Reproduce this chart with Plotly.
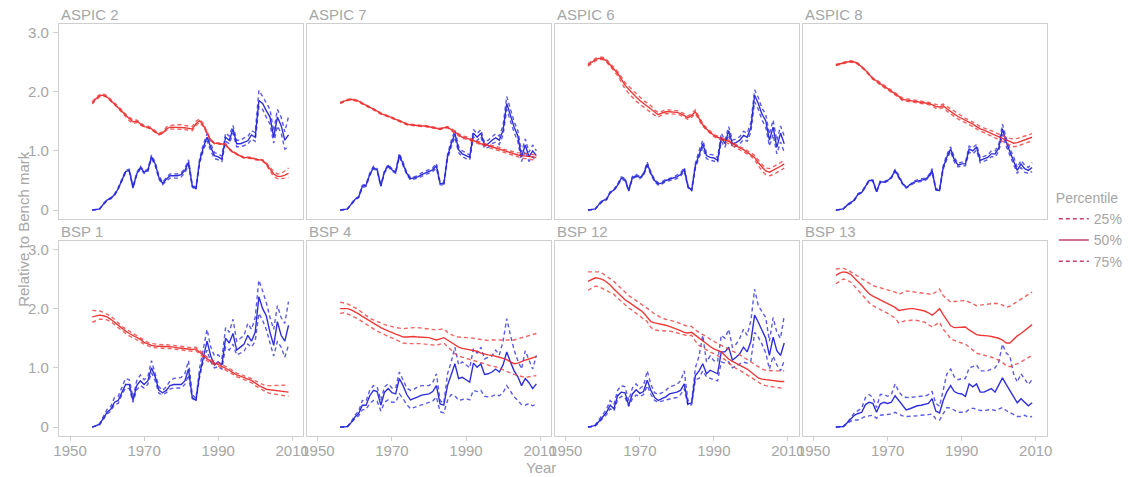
import plotly.graph_objects as go

# ---- data -----------------------------------------------------------------
YEARS = list(range(1956, 2010))
PANELS = ["ASPIC 2", "ASPIC 7", "ASPIC 6", "ASPIC 8", "BSP 1", "BSP 4", "BSP 12", "BSP 13"]
X_TICKS = [1950, 1970, 1990, 2010]
Y_TICKS = [0, 1, 2, 3]
Y_TICK_TEXT = ["0", "1.0", "2.0", "3.0"]
PERCENTILES = ["25%", "50%", "75%"]

# biomass relative to benchmark (red): 25th, 50th, 75th percentiles
aspic2_bio_25 = [1.79, 1.86, 1.91, 1.93, 1.90, 1.84, 1.79, 1.72, 1.65, 1.58,
                 1.51, 1.46, 1.48, 1.44, 1.40, 1.39, 1.36, 1.31, 1.27, 1.29,
                 1.35, 1.37, 1.37, 1.37, 1.37, 1.36, 1.35, 1.34, 1.43, 1.48,
                 1.41, 1.28, 1.17, 1.12, 1.11, 1.11, 1.10, 1.02, 0.97, 0.94,
                 0.90, 0.88, 0.88, 0.87, 0.85, 0.84, 0.83, 0.76, 0.66, 0.57,
                 0.53, 0.53, 0.54, 0.55]
aspic2_bio_50 = [1.81, 1.88, 1.93, 1.94, 1.91, 1.85, 1.80, 1.74, 1.67, 1.60,
                 1.54, 1.49, 1.50, 1.46, 1.41, 1.40, 1.37, 1.32, 1.28, 1.30,
                 1.37, 1.40, 1.40, 1.40, 1.40, 1.39, 1.38, 1.37, 1.46, 1.51,
                 1.43, 1.29, 1.18, 1.13, 1.12, 1.12, 1.11, 1.03, 0.98, 0.95,
                 0.91, 0.89, 0.89, 0.88, 0.86, 0.85, 0.84, 0.78, 0.69, 0.61,
                 0.57, 0.57, 0.59, 0.62]
aspic2_bio_75 = [1.83, 1.90, 1.95, 1.96, 1.93, 1.87, 1.82, 1.76, 1.69, 1.62,
                 1.57, 1.52, 1.52, 1.48, 1.43, 1.42, 1.39, 1.34, 1.30, 1.32,
                 1.40, 1.43, 1.44, 1.44, 1.44, 1.43, 1.42, 1.41, 1.50, 1.54,
                 1.46, 1.31, 1.19, 1.14, 1.13, 1.13, 1.12, 1.04, 0.99, 0.96,
                 0.92, 0.90, 0.90, 0.89, 0.87, 0.86, 0.85, 0.80, 0.72, 0.65,
                 0.61, 0.62, 0.66, 0.71]

aspic7_bio_25 = [1.80, 1.83, 1.85, 1.86, 1.85, 1.83, 1.79, 1.76, 1.73, 1.70,
                 1.66, 1.62, 1.60, 1.58, 1.55, 1.52, 1.50, 1.47, 1.44, 1.43,
                 1.42, 1.42, 1.41, 1.41, 1.40, 1.39, 1.38, 1.36, 1.38, 1.39,
                 1.34, 1.30, 1.25, 1.21, 1.20, 1.18, 1.15, 1.13, 1.10, 1.09,
                 1.06, 1.04, 1.02, 1.00, 0.97, 0.95, 0.93, 0.91, 0.89, 0.88,
                 0.87, 0.86, 0.85, 0.86]
aspic7_bio_50 = [1.81, 1.84, 1.86, 1.87, 1.86, 1.84, 1.80, 1.77, 1.74, 1.71,
                 1.67, 1.63, 1.61, 1.59, 1.56, 1.53, 1.51, 1.48, 1.45, 1.44,
                 1.43, 1.43, 1.42, 1.42, 1.41, 1.40, 1.39, 1.37, 1.39, 1.40,
                 1.36, 1.32, 1.27, 1.23, 1.22, 1.20, 1.17, 1.15, 1.12, 1.11,
                 1.09, 1.07, 1.05, 1.03, 1.00, 0.98, 0.96, 0.95, 0.93, 0.92,
                 0.91, 0.90, 0.89, 0.89]
aspic7_bio_75 = [1.82, 1.85, 1.87, 1.88, 1.87, 1.85, 1.81, 1.78, 1.75, 1.72,
                 1.68, 1.64, 1.62, 1.60, 1.57, 1.54, 1.52, 1.49, 1.46, 1.45,
                 1.44, 1.44, 1.43, 1.43, 1.42, 1.41, 1.40, 1.38, 1.40, 1.41,
                 1.38, 1.34, 1.29, 1.25, 1.24, 1.22, 1.19, 1.17, 1.14, 1.13,
                 1.11, 1.09, 1.08, 1.06, 1.03, 1.01, 0.99, 0.98, 0.97, 0.96,
                 0.95, 0.94, 0.93, 0.93]

aspic6_bio_25 = [2.43, 2.48, 2.52, 2.54, 2.54, 2.50, 2.43, 2.35, 2.27, 2.16,
                 2.05, 1.97, 1.90, 1.84, 1.79, 1.74, 1.70, 1.65, 1.60, 1.57,
                 1.61, 1.63, 1.63, 1.63, 1.62, 1.60, 1.57, 1.53, 1.57, 1.63,
                 1.52, 1.42, 1.35, 1.29, 1.24, 1.21, 1.18, 1.16, 1.13, 1.09,
                 1.05, 1.02, 0.99, 0.95, 0.91, 0.85, 0.75, 0.66, 0.60, 0.58,
                 0.60, 0.63, 0.67, 0.71]
aspic6_bio_50 = [2.45, 2.50, 2.54, 2.56, 2.56, 2.52, 2.45, 2.38, 2.31, 2.21,
                 2.11, 2.04, 1.97, 1.91, 1.85, 1.80, 1.76, 1.71, 1.65, 1.61,
                 1.64, 1.66, 1.66, 1.66, 1.65, 1.63, 1.60, 1.56, 1.60, 1.66,
                 1.55, 1.44, 1.37, 1.31, 1.26, 1.23, 1.20, 1.18, 1.16, 1.12,
                 1.08, 1.05, 1.02, 0.98, 0.94, 0.89, 0.80, 0.72, 0.66, 0.64,
                 0.67, 0.70, 0.74, 0.78]
aspic6_bio_75 = [2.47, 2.52, 2.56, 2.58, 2.58, 2.54, 2.47, 2.40, 2.34, 2.25,
                 2.15, 2.09, 2.03, 1.97, 1.90, 1.85, 1.81, 1.76, 1.69, 1.65,
                 1.67, 1.69, 1.69, 1.69, 1.68, 1.66, 1.63, 1.59, 1.63, 1.69,
                 1.58, 1.46, 1.39, 1.33, 1.28, 1.25, 1.22, 1.20, 1.18, 1.14,
                 1.10, 1.07, 1.04, 1.01, 0.97, 0.92, 0.84, 0.77, 0.71, 0.70,
                 0.73, 0.76, 0.80, 0.85]

aspic8_bio_25 = [2.44, 2.46, 2.48, 2.49, 2.50, 2.49, 2.46, 2.41, 2.35, 2.28,
                 2.21, 2.16, 2.11, 2.07, 2.03, 1.99, 1.94, 1.90, 1.85, 1.84,
                 1.83, 1.83, 1.82, 1.80, 1.79, 1.78, 1.76, 1.72, 1.71, 1.73,
                 1.67, 1.62, 1.58, 1.54, 1.51, 1.47, 1.44, 1.41, 1.37, 1.33,
                 1.31, 1.28, 1.26, 1.23, 1.20, 1.17, 1.13, 1.10, 1.07, 1.08,
                 1.10, 1.12, 1.14, 1.17]
aspic8_bio_50 = [2.45, 2.47, 2.49, 2.50, 2.51, 2.50, 2.47, 2.42, 2.36, 2.29,
                 2.22, 2.18, 2.13, 2.09, 2.05, 2.01, 1.96, 1.92, 1.87, 1.86,
                 1.85, 1.85, 1.84, 1.82, 1.81, 1.80, 1.78, 1.75, 1.74, 1.76,
                 1.71, 1.66, 1.62, 1.58, 1.55, 1.51, 1.48, 1.45, 1.41, 1.37,
                 1.35, 1.32, 1.30, 1.27, 1.24, 1.21, 1.18, 1.16, 1.13, 1.14,
                 1.16, 1.18, 1.20, 1.23]
aspic8_bio_75 = [2.46, 2.48, 2.50, 2.51, 2.52, 2.51, 2.48, 2.43, 2.37, 2.30,
                 2.23, 2.20, 2.15, 2.11, 2.07, 2.03, 1.98, 1.94, 1.89, 1.88,
                 1.87, 1.87, 1.86, 1.84, 1.83, 1.82, 1.80, 1.78, 1.77, 1.79,
                 1.75, 1.70, 1.66, 1.62, 1.59, 1.55, 1.52, 1.49, 1.45, 1.41,
                 1.39, 1.36, 1.34, 1.31, 1.28, 1.25, 1.23, 1.21, 1.20, 1.21,
                 1.23, 1.25, 1.27, 1.29]

bsp1_bio_25 = [1.77, 1.80, 1.82, 1.82, 1.81, 1.78, 1.73, 1.68, 1.62, 1.58,
               1.54, 1.51, 1.48, 1.44, 1.40, 1.37, 1.35, 1.34, 1.33, 1.33,
               1.33, 1.33, 1.32, 1.31, 1.30, 1.29, 1.28, 1.28, 1.29, 1.24,
               1.18, 1.12, 1.08, 1.05, 1.03, 1.00, 0.97, 0.93, 0.89, 0.85,
               0.83, 0.80, 0.78, 0.75, 0.70, 0.66, 0.62, 0.59, 0.57, 0.56,
               0.55, 0.54, 0.53, 0.52]
bsp1_bio_50 = [1.86, 1.88, 1.89, 1.88, 1.86, 1.82, 1.77, 1.72, 1.66, 1.62,
               1.58, 1.55, 1.52, 1.48, 1.43, 1.40, 1.38, 1.37, 1.36, 1.36,
               1.36, 1.36, 1.35, 1.34, 1.33, 1.32, 1.31, 1.31, 1.32, 1.27,
               1.21, 1.15, 1.11, 1.08, 1.06, 1.03, 1.00, 0.96, 0.92, 0.88,
               0.86, 0.83, 0.81, 0.79, 0.74, 0.70, 0.67, 0.64, 0.63, 0.62,
               0.62, 0.61, 0.60, 0.59]
bsp1_bio_75 = [1.97, 1.97, 1.96, 1.94, 1.91, 1.87, 1.82, 1.76, 1.70, 1.66,
               1.62, 1.58, 1.55, 1.51, 1.46, 1.43, 1.41, 1.40, 1.39, 1.39,
               1.39, 1.39, 1.38, 1.37, 1.36, 1.35, 1.34, 1.34, 1.35, 1.30,
               1.24, 1.18, 1.14, 1.11, 1.09, 1.06, 1.03, 0.99, 0.95, 0.91,
               0.89, 0.86, 0.84, 0.82, 0.78, 0.75, 0.72, 0.70, 0.70, 0.70,
               0.70, 0.70, 0.71, 0.71]

bsp4_bio_25 = [1.92, 1.93, 1.91, 1.88, 1.86, 1.82, 1.78, 1.74, 1.70, 1.65,
               1.62, 1.59, 1.56, 1.53, 1.50, 1.47, 1.44, 1.42, 1.41, 1.41,
               1.42, 1.42, 1.41, 1.40, 1.39, 1.38, 1.38, 1.40, 1.42, 1.36,
               1.30, 1.24, 1.20, 1.18, 1.17, 1.15, 1.13, 1.11, 1.09, 1.07,
               1.05, 1.03, 1.02, 1.00, 0.97, 0.94, 0.91, 0.89, 0.87, 0.85,
               0.84, 0.85, 0.86, 0.87]
bsp4_bio_50 = [2.00, 2.00, 2.00, 1.98, 1.95, 1.91, 1.87, 1.83, 1.79, 1.75,
               1.71, 1.68, 1.65, 1.62, 1.60, 1.57, 1.55, 1.52, 1.52, 1.53,
               1.53, 1.52, 1.52, 1.51, 1.51, 1.49, 1.47, 1.49, 1.51, 1.47,
               1.43, 1.39, 1.35, 1.33, 1.32, 1.31, 1.30, 1.28, 1.25, 1.23,
               1.22, 1.21, 1.20, 1.18, 1.16, 1.14, 1.10, 1.07, 1.08, 1.11,
               1.13, 1.15, 1.17, 1.19]
bsp4_bio_75 = [2.11, 2.10, 2.08, 2.05, 2.02, 1.98, 1.93, 1.88, 1.84, 1.81,
               1.79, 1.76, 1.73, 1.71, 1.70, 1.68, 1.67, 1.66, 1.67, 1.68,
               1.68, 1.68, 1.67, 1.66, 1.65, 1.64, 1.64, 1.65, 1.66, 1.60,
               1.56, 1.53, 1.52, 1.51, 1.51, 1.51, 1.50, 1.48, 1.47, 1.46,
               1.46, 1.47, 1.47, 1.47, 1.46, 1.46, 1.46, 1.47, 1.49, 1.51,
               1.52, 1.54, 1.56, 1.58]

bsp12_bio_25 = [2.31, 2.35, 2.38, 2.37, 2.34, 2.30, 2.27, 2.24, 2.18, 2.12,
                2.06, 2.01, 1.97, 1.92, 1.87, 1.83, 1.78, 1.68, 1.64, 1.63,
                1.63, 1.63, 1.62, 1.61, 1.59, 1.57, 1.55, 1.54, 1.55, 1.45,
                1.38, 1.34, 1.30, 1.27, 1.24, 1.21, 1.18, 1.14, 1.08, 1.03,
                0.99, 0.96, 0.92, 0.88, 0.84, 0.80, 0.76, 0.72, 0.70, 0.69,
                0.68, 0.68, 0.67, 0.65]
bsp12_bio_50 = [2.46, 2.49, 2.52, 2.51, 2.49, 2.45, 2.40, 2.33, 2.27, 2.20,
                2.15, 2.11, 2.07, 2.03, 1.98, 1.93, 1.86, 1.78, 1.76, 1.75,
                1.73, 1.72, 1.70, 1.68, 1.66, 1.63, 1.60, 1.59, 1.60, 1.55,
                1.50, 1.45, 1.40, 1.36, 1.32, 1.30, 1.27, 1.21, 1.15, 1.11,
                1.08, 1.05, 1.01, 0.98, 0.93, 0.88, 0.83, 0.81, 0.80, 0.79,
                0.78, 0.78, 0.77, 0.77]
bsp12_bio_75 = [2.62, 2.62, 2.63, 2.62, 2.59, 2.55, 2.51, 2.46, 2.40, 2.34,
                2.28, 2.22, 2.18, 2.13, 2.09, 2.05, 2.01, 1.96, 1.91, 1.87,
                1.84, 1.82, 1.81, 1.79, 1.77, 1.75, 1.72, 1.70, 1.70, 1.64,
                1.60, 1.56, 1.53, 1.49, 1.45, 1.41, 1.38, 1.35, 1.32, 1.28,
                1.25, 1.22, 1.18, 1.14, 1.10, 1.06, 1.02, 0.98, 0.96, 0.95,
                0.95, 0.95, 0.95, 0.95]

bsp13_bio_25 = [2.42, 2.46, 2.50, 2.48, 2.45, 2.38, 2.31, 2.24, 2.17, 2.10,
                2.05, 2.02, 1.99, 1.96, 1.92, 1.88, 1.84, 1.76, 1.78, 1.80,
                1.80, 1.81, 1.80, 1.79, 1.77, 1.73, 1.69, 1.73, 1.77, 1.65,
                1.58, 1.49, 1.46, 1.44, 1.42, 1.40, 1.35, 1.30, 1.25, 1.23,
                1.22, 1.20, 1.18, 1.16, 1.13, 1.09, 1.04, 1.02, 1.04, 1.07,
                1.10, 1.14, 1.18, 1.21]
bsp13_bio_50 = [2.56, 2.60, 2.62, 2.61, 2.58, 2.52, 2.46, 2.39, 2.32, 2.25,
                2.21, 2.18, 2.14, 2.11, 2.09, 2.06, 2.02, 1.97, 1.98, 2.00,
                2.00, 2.00, 1.99, 1.98, 1.96, 1.93, 1.89, 1.94, 2.00, 1.90,
                1.80, 1.71, 1.68, 1.68, 1.68, 1.69, 1.64, 1.60, 1.56, 1.55,
                1.55, 1.54, 1.53, 1.52, 1.50, 1.47, 1.42, 1.42, 1.48, 1.54,
                1.58, 1.63, 1.68, 1.73]
bsp13_bio_75 = [2.67, 2.68, 2.68, 2.66, 2.62, 2.58, 2.54, 2.50, 2.46, 2.42,
                2.39, 2.37, 2.35, 2.33, 2.32, 2.30, 2.28, 2.24, 2.27, 2.30,
                2.29, 2.28, 2.27, 2.27, 2.26, 2.25, 2.24, 2.28, 2.33, 2.22,
                2.16, 2.11, 2.12, 2.13, 2.13, 2.14, 2.11, 2.08, 2.05, 2.06,
                2.07, 2.08, 2.09, 2.09, 2.08, 2.06, 2.02, 2.04, 2.08, 2.12,
                2.17, 2.21, 2.25, 2.28]

# fishing mortality relative to benchmark (blue): 25th, 50th, 75th percentiles
aspic2_f_25 = [0.00, 0.01, 0.02, 0.09, 0.16, 0.19, 0.25, 0.35, 0.48, 0.63,
               0.65, 0.37, 0.59, 0.70, 0.62, 0.65, 0.87, 0.75, 0.52, 0.43,
               0.49, 0.54, 0.54, 0.54, 0.56, 0.63, 0.76, 0.39, 0.34, 0.79,
               1.01, 1.17, 1.00, 0.87, 0.85, 0.82, 1.16, 1.12, 1.30, 1.07,
               1.07, 1.09, 1.11, 1.20, 1.16, 1.75, 1.70, 1.57, 1.45, 1.13,
               1.42, 1.30, 1.03, 1.07]
aspic2_f_50 = [0.00, 0.01, 0.02, 0.10, 0.17, 0.20, 0.26, 0.36, 0.50, 0.65,
               0.67, 0.38, 0.61, 0.72, 0.64, 0.67, 0.90, 0.78, 0.55, 0.45,
               0.52, 0.58, 0.58, 0.58, 0.60, 0.67, 0.81, 0.41, 0.36, 0.83,
               1.06, 1.23, 1.06, 0.92, 0.90, 0.86, 1.23, 1.18, 1.37, 1.12,
               1.12, 1.15, 1.17, 1.27, 1.23, 1.85, 1.80, 1.68, 1.57, 1.23,
               1.57, 1.43, 1.18, 1.27]
aspic2_f_75 = [0.00, 0.01, 0.02, 0.11, 0.18, 0.21, 0.27, 0.38, 0.52, 0.67,
               0.69, 0.40, 0.63, 0.74, 0.66, 0.69, 0.93, 0.81, 0.58, 0.47,
               0.55, 0.61, 0.61, 0.61, 0.63, 0.70, 0.85, 0.43, 0.38, 0.87,
               1.11, 1.29, 1.12, 0.97, 0.95, 0.91, 1.30, 1.25, 1.43, 1.18,
               1.18, 1.22, 1.24, 1.34, 1.31, 2.02, 1.92, 1.80, 1.70, 1.33,
               1.70, 1.57, 1.32, 1.58]

aspic7_f_25 = [0.00, 0.01, 0.02, 0.09, 0.17, 0.21, 0.38, 0.40, 0.58, 0.70,
               0.66, 0.40, 0.63, 0.73, 0.66, 0.62, 0.90, 0.75, 0.60, 0.51,
               0.52, 0.54, 0.57, 0.60, 0.63, 0.65, 0.71, 0.43, 0.42, 0.86,
               1.07, 1.23, 0.97, 0.90, 0.87, 0.85, 1.24, 1.17, 1.24, 1.04,
               1.06, 1.12, 1.15, 1.11, 1.27, 1.70, 1.50, 1.31, 1.16, 0.82,
               1.00, 0.82, 0.90, 0.83]
aspic7_f_50 = [0.00, 0.01, 0.02, 0.10, 0.18, 0.22, 0.40, 0.42, 0.60, 0.72,
               0.68, 0.41, 0.65, 0.75, 0.68, 0.64, 0.93, 0.78, 0.62, 0.53,
               0.54, 0.56, 0.60, 0.63, 0.66, 0.68, 0.75, 0.45, 0.44, 0.90,
               1.12, 1.29, 1.02, 0.95, 0.92, 0.89, 1.30, 1.23, 1.30, 1.09,
               1.12, 1.18, 1.22, 1.18, 1.35, 1.80, 1.60, 1.40, 1.25, 0.90,
               1.10, 0.90, 1.00, 0.92]
aspic7_f_75 = [0.00, 0.01, 0.02, 0.11, 0.19, 0.23, 0.42, 0.44, 0.62, 0.74,
               0.70, 0.42, 0.67, 0.77, 0.70, 0.66, 0.96, 0.81, 0.64, 0.55,
               0.56, 0.58, 0.63, 0.66, 0.69, 0.71, 0.79, 0.47, 0.46, 0.94,
               1.17, 1.35, 1.07, 1.00, 0.97, 0.93, 1.36, 1.29, 1.36, 1.14,
               1.18, 1.24, 1.29, 1.25, 1.43, 1.92, 1.70, 1.49, 1.34, 0.98,
               1.20, 0.98, 1.10, 1.00]

aspic6_f_25 = [0.00, 0.01, 0.02, 0.09, 0.15, 0.17, 0.29, 0.33, 0.41, 0.52,
               0.50, 0.32, 0.53, 0.56, 0.53, 0.58, 0.75, 0.60, 0.48, 0.42,
               0.44, 0.48, 0.50, 0.51, 0.53, 0.57, 0.66, 0.38, 0.32, 0.71,
               0.90, 1.06, 0.87, 0.84, 0.83, 0.80, 1.16, 1.06, 1.27, 1.06,
               1.08, 1.12, 1.19, 1.16, 1.32, 1.83, 1.70, 1.52, 1.40, 1.08,
               1.28, 0.95, 1.15, 0.98]
aspic6_f_50 = [0.00, 0.01, 0.02, 0.10, 0.16, 0.18, 0.30, 0.34, 0.42, 0.54,
               0.52, 0.33, 0.55, 0.58, 0.55, 0.60, 0.78, 0.62, 0.50, 0.44,
               0.46, 0.50, 0.52, 0.53, 0.56, 0.60, 0.69, 0.40, 0.33, 0.75,
               0.95, 1.12, 0.92, 0.89, 0.88, 0.84, 1.23, 1.12, 1.34, 1.12,
               1.14, 1.18, 1.26, 1.23, 1.40, 1.94, 1.80, 1.62, 1.51, 1.18,
               1.40, 1.06, 1.30, 1.12]
aspic6_f_75 = [0.00, 0.01, 0.02, 0.11, 0.17, 0.19, 0.31, 0.35, 0.44, 0.56,
               0.54, 0.34, 0.57, 0.60, 0.57, 0.62, 0.81, 0.64, 0.52, 0.46,
               0.48, 0.52, 0.54, 0.55, 0.59, 0.63, 0.72, 0.42, 0.34, 0.79,
               1.00, 1.18, 0.97, 0.94, 0.93, 0.88, 1.30, 1.18, 1.41, 1.18,
               1.20, 1.24, 1.33, 1.30, 1.48, 2.03, 1.90, 1.72, 1.62, 1.28,
               1.52, 1.17, 1.42, 1.25]

aspic8_f_25 = [0.00, 0.01, 0.02, 0.07, 0.12, 0.16, 0.26, 0.29, 0.39, 0.49,
               0.49, 0.30, 0.47, 0.46, 0.49, 0.54, 0.65, 0.55, 0.44, 0.37,
               0.41, 0.45, 0.47, 0.48, 0.50, 0.54, 0.64, 0.34, 0.32, 0.69,
               0.86, 0.99, 0.81, 0.73, 0.75, 0.75, 0.98, 0.95, 1.01, 0.80,
               0.82, 0.85, 0.90, 0.90, 0.99, 1.28, 1.08, 0.92, 0.78, 0.62,
               0.72, 0.64, 0.62, 0.65]
aspic8_f_50 = [0.00, 0.01, 0.02, 0.08, 0.13, 0.17, 0.27, 0.30, 0.40, 0.50,
               0.50, 0.31, 0.48, 0.47, 0.50, 0.55, 0.67, 0.57, 0.45, 0.38,
               0.42, 0.47, 0.49, 0.50, 0.52, 0.56, 0.67, 0.35, 0.33, 0.72,
               0.90, 1.03, 0.85, 0.76, 0.78, 0.78, 1.03, 1.00, 1.06, 0.84,
               0.86, 0.89, 0.95, 0.95, 1.05, 1.37, 1.15, 0.98, 0.84, 0.67,
               0.78, 0.70, 0.67, 0.72]
aspic8_f_75 = [0.00, 0.01, 0.02, 0.09, 0.14, 0.18, 0.28, 0.31, 0.41, 0.51,
               0.51, 0.32, 0.49, 0.48, 0.51, 0.56, 0.69, 0.59, 0.46, 0.39,
               0.43, 0.49, 0.51, 0.52, 0.54, 0.58, 0.70, 0.36, 0.34, 0.75,
               0.94, 1.07, 0.89, 0.79, 0.81, 0.81, 1.08, 1.05, 1.11, 0.88,
               0.90, 0.93, 1.00, 1.00, 1.11, 1.45, 1.22, 1.04, 0.90, 0.72,
               0.84, 0.76, 0.72, 0.80]

bsp1_f_25 = [0.00, 0.02, 0.04, 0.13, 0.22, 0.27, 0.38, 0.40, 0.55, 0.66,
             0.65, 0.42, 0.63, 0.70, 0.66, 0.72, 0.92, 0.78, 0.57, 0.55,
             0.58, 0.64, 0.66, 0.66, 0.66, 0.72, 0.88, 0.48, 0.44, 0.85,
             1.12, 1.30, 1.10, 1.00, 1.02, 0.98, 1.35, 1.30, 1.40, 1.22,
             1.25, 1.28, 1.40, 1.35, 1.45, 1.92, 1.80, 1.65, 1.42, 1.20,
             1.45, 1.35, 1.18, 1.38]
bsp1_f_50 = [0.00, 0.02, 0.05, 0.15, 0.25, 0.30, 0.42, 0.45, 0.60, 0.72,
             0.72, 0.45, 0.70, 0.78, 0.72, 0.78, 1.00, 0.85, 0.62, 0.58,
             0.62, 0.70, 0.72, 0.72, 0.72, 0.78, 0.98, 0.50, 0.45, 0.90,
             1.20, 1.45, 1.20, 1.05, 1.10, 1.05, 1.50, 1.42, 1.58, 1.30,
             1.35, 1.40, 1.55, 1.45, 1.60, 2.20, 2.00, 1.88, 1.60, 1.38,
             1.78, 1.55, 1.45, 1.72]
bsp1_f_75 = [0.00, 0.02, 0.06, 0.18, 0.30, 0.35, 0.50, 0.52, 0.68, 0.82,
             0.80, 0.50, 0.78, 0.88, 0.80, 0.85, 1.12, 0.92, 0.68, 0.62,
             0.68, 0.78, 0.82, 0.83, 0.84, 0.90, 1.12, 0.55, 0.48, 1.00,
             1.35, 1.65, 1.35, 1.20, 1.22, 1.15, 1.68, 1.60, 1.82, 1.45,
             1.50, 1.55, 1.75, 1.65, 1.85, 2.48, 2.30, 2.10, 1.85, 1.65,
             2.05, 1.85, 1.75, 2.12]

bsp4_f_25 = [0.00, 0.00, 0.01, 0.07, 0.14, 0.19, 0.29, 0.30, 0.40, 0.45,
             0.44, 0.27, 0.42, 0.46, 0.42, 0.42, 0.56, 0.48, 0.38, 0.31,
             0.33, 0.35, 0.38, 0.40, 0.41, 0.44, 0.51, 0.26, 0.24, 0.45,
             0.55, 0.53, 0.45, 0.47, 0.48, 0.46, 0.62, 0.60, 0.62, 0.52,
             0.51, 0.52, 0.55, 0.53, 0.58, 0.70, 0.60, 0.51, 0.45, 0.38,
             0.37, 0.40, 0.36, 0.39]
bsp4_f_50 = [0.00, 0.00, 0.01, 0.08, 0.17, 0.23, 0.37, 0.37, 0.53, 0.62,
             0.60, 0.37, 0.59, 0.65, 0.58, 0.56, 0.82, 0.70, 0.55, 0.46,
             0.48, 0.51, 0.54, 0.55, 0.56, 0.60, 0.70, 0.39, 0.37, 0.70,
             0.88, 1.07, 0.82, 0.84, 0.80, 0.76, 1.08, 1.01, 1.07, 0.89,
             0.90, 0.93, 0.98, 0.93, 1.05, 1.27, 1.10, 0.95, 0.85, 0.70,
             0.82, 0.75, 0.65, 0.73]
bsp4_f_75 = [0.00, 0.00, 0.01, 0.09, 0.20, 0.27, 0.45, 0.44, 0.62, 0.70,
             0.68, 0.45, 0.68, 0.73, 0.66, 0.66, 0.93, 0.80, 0.66, 0.62,
             0.64, 0.68, 0.70, 0.70, 0.70, 0.75, 0.90, 0.45, 0.40, 0.90,
             1.10, 1.35, 1.05, 1.10, 1.05, 1.00, 1.32, 1.25, 1.35, 1.15,
             1.18, 1.20, 1.30, 1.22, 1.45, 1.83, 1.55, 1.30, 1.12, 0.98,
             1.29, 1.12, 0.98, 1.21]

bsp12_f_25 = [0.00, 0.01, 0.02, 0.08, 0.14, 0.21, 0.31, 0.27, 0.46, 0.52,
              0.50, 0.35, 0.48, 0.54, 0.52, 0.55, 0.70, 0.55, 0.45, 0.42,
              0.44, 0.46, 0.48, 0.49, 0.50, 0.55, 0.65, 0.36, 0.38, 0.80,
              0.82, 0.95, 0.85, 0.82, 0.80, 0.78, 1.10, 1.08, 1.10, 1.00,
              1.03, 1.06, 1.10, 1.08, 1.12, 1.60, 1.52, 1.40, 1.25, 0.98,
              1.20, 1.05, 0.95, 1.12]
bsp12_f_50 = [0.00, 0.01, 0.03, 0.10, 0.17, 0.25, 0.37, 0.31, 0.53, 0.59,
              0.58, 0.37, 0.56, 0.63, 0.57, 0.60, 0.79, 0.62, 0.50, 0.45,
              0.48, 0.51, 0.56, 0.57, 0.59, 0.62, 0.73, 0.39, 0.41, 0.87,
              0.95, 1.07, 0.90, 0.96, 0.93, 0.90, 1.27, 1.27, 1.35, 1.13,
              1.18, 1.24, 1.35, 1.27, 1.45, 1.89, 1.77, 1.62, 1.50, 1.21,
              1.52, 1.29, 1.21, 1.42]
bsp12_f_75 = [0.00, 0.01, 0.04, 0.12, 0.20, 0.30, 0.45, 0.38, 0.62, 0.70,
              0.68, 0.45, 0.66, 0.73, 0.65, 0.70, 0.95, 0.72, 0.58, 0.55,
              0.58, 0.62, 0.68, 0.70, 0.72, 0.78, 0.95, 0.45, 0.42, 1.00,
              1.20, 1.55, 1.10, 1.20, 1.12, 1.10, 1.55, 1.50, 1.65, 1.35,
              1.40, 1.50, 1.65, 1.55, 1.80, 2.33, 2.05, 1.95, 1.85, 1.45,
              1.85, 1.60, 1.50, 1.88]

bsp13_f_25 = [0.00, 0.00, 0.01, 0.05, 0.10, 0.12, 0.12, 0.15, 0.18, 0.19,
              0.20, 0.15, 0.20, 0.21, 0.22, 0.22, 0.25, 0.22, 0.19, 0.18,
              0.18, 0.19, 0.19, 0.20, 0.20, 0.21, 0.22, 0.14, 0.12, 0.22,
              0.33, 0.32, 0.28, 0.25, 0.25, 0.25, 0.30, 0.32, 0.30, 0.28,
              0.28, 0.29, 0.30, 0.28, 0.30, 0.33, 0.28, 0.25, 0.22, 0.18,
              0.18, 0.20, 0.17, 0.18]
bsp13_f_50 = [0.00, 0.00, 0.01, 0.07, 0.14, 0.20, 0.23, 0.25, 0.38, 0.42,
              0.40, 0.25, 0.39, 0.42, 0.40, 0.42, 0.53, 0.45, 0.35, 0.29,
              0.31, 0.34, 0.36, 0.37, 0.38, 0.40, 0.48, 0.27, 0.24, 0.45,
              0.60, 0.70, 0.60, 0.57, 0.56, 0.52, 0.73, 0.68, 0.73, 0.59,
              0.59, 0.62, 0.65, 0.59, 0.70, 0.83, 0.72, 0.62, 0.52, 0.41,
              0.48, 0.42, 0.36, 0.41]
bsp13_f_75 = [0.00, 0.00, 0.01, 0.08, 0.15, 0.24, 0.28, 0.32, 0.50, 0.55,
              0.50, 0.33, 0.55, 0.55, 0.52, 0.55, 0.73, 0.60, 0.52, 0.50,
              0.50, 0.51, 0.52, 0.52, 0.52, 0.55, 0.60, 0.40, 0.35, 0.60,
              0.90, 0.98, 0.85, 0.80, 0.82, 0.82, 1.00, 1.02, 1.05, 0.95,
              0.95, 0.95, 0.98, 1.00, 1.10, 1.40, 1.25, 1.20, 0.90, 0.76,
              0.90, 0.80, 0.72, 0.80]

BIOMASS = {
    "ASPIC 2": (aspic2_bio_25, aspic2_bio_50, aspic2_bio_75),
    "ASPIC 7": (aspic7_bio_25, aspic7_bio_50, aspic7_bio_75),
    "ASPIC 6": (aspic6_bio_25, aspic6_bio_50, aspic6_bio_75),
    "ASPIC 8": (aspic8_bio_25, aspic8_bio_50, aspic8_bio_75),
    "BSP 1": (bsp1_bio_25, bsp1_bio_50, bsp1_bio_75),
    "BSP 4": (bsp4_bio_25, bsp4_bio_50, bsp4_bio_75),
    "BSP 12": (bsp12_bio_25, bsp12_bio_50, bsp12_bio_75),
    "BSP 13": (bsp13_bio_25, bsp13_bio_50, bsp13_bio_75),
}
HARVEST = {
    "ASPIC 2": (aspic2_f_25, aspic2_f_50, aspic2_f_75),
    "ASPIC 7": (aspic7_f_25, aspic7_f_50, aspic7_f_75),
    "ASPIC 6": (aspic6_f_25, aspic6_f_50, aspic6_f_75),
    "ASPIC 8": (aspic8_f_25, aspic8_f_50, aspic8_f_75),
    "BSP 1": (bsp1_f_25, bsp1_f_50, bsp1_f_75),
    "BSP 4": (bsp4_f_25, bsp4_f_50, bsp4_f_75),
    "BSP 12": (bsp12_f_25, bsp12_f_50, bsp12_f_75),
    "BSP 13": (bsp13_f_25, bsp13_f_50, bsp13_f_75),
}

# ---- styling ----------------------------------------------------------------
W, H = 1137, 477
FONT = "Liberation Sans, Arial, sans-serif"
TEXT_GREY = "#a6a6a6"
FRAME_GREY = "#cfcfcf"
RED = "rgba(236,36,36,0.9)"
RED_DASH = "rgba(236,60,60,0.8)"
BLUE = "rgba(24,24,214,0.9)"
BLUE_DASH = "rgba(50,50,222,0.8)"
DASH = "4px,3px"

# panel boxes in pixels: left edges per column, top per row
COL_LEFT = [53.5, 304.0, 554.5, 805.0]
PANEL_W = 247.0
ROW_TOP = [23.5, 240.5]
PANEL_H = 195.5

fig = go.Figure()
layout = dict(
    width=W, height=H,
    margin=dict(l=0, r=0, t=0, b=0),
    paper_bgcolor="white", plot_bgcolor="white",
    font=dict(family=FONT, color=TEXT_GREY, size=14),
    showlegend=True,
)
annotations = []

for i, name in enumerate(PANELS):
    row, col = divmod(i, 4)
    left = COL_LEFT[col]
    top = ROW_TOP[row]
    xd = [left / W, (left + PANEL_W) / W]
    yd = [1 - (top + PANEL_H) / H, 1 - top / H]
    suffix = "" if i == 0 else str(i + 1)
    xa, ya = "x" + suffix, "y" + suffix

    layout["xaxis" + suffix] = dict(
        domain=xd, anchor=ya, range=[1947, 2013],
        tickvals=X_TICKS, showticklabels=(row == 1),
        ticks="outside" if row == 1 else "", ticklen=4, tickcolor=FRAME_GREY,
        ticklabelstandoff=-3,
        tickfont=dict(size=15, color=TEXT_GREY),
        showgrid=False, zeroline=False,
        showline=True, mirror=True, linecolor=FRAME_GREY, linewidth=1,
    )
    layout["yaxis" + suffix] = dict(
        domain=yd, anchor=xa, range=[-0.15, 3.15],
        tickvals=Y_TICKS, ticktext=Y_TICK_TEXT, showticklabels=(col == 0),
        ticks="outside" if col == 0 else "", ticklen=5, tickcolor=FRAME_GREY,
        ticklabelstandoff=1,
        tickfont=dict(size=15, color=TEXT_GREY),
        showgrid=False, zeroline=False,
        showline=True, mirror=True, linecolor=FRAME_GREY, linewidth=1,
    )

    for vals, pct in zip(HARVEST[name], PERCENTILES):
        solid = pct == "50%"
        fig.add_trace(go.Scatter(
            x=YEARS, y=vals, mode="lines", xaxis=xa, yaxis=ya, showlegend=False,
            line=dict(color=BLUE if solid else BLUE_DASH, width=1.4,
                      dash="solid" if solid else DASH),
            hoverinfo="skip",
        ))
    for vals, pct in zip(BIOMASS[name], PERCENTILES):
        solid = pct == "50%"
        fig.add_trace(go.Scatter(
            x=YEARS, y=vals, mode="lines", xaxis=xa, yaxis=ya, showlegend=False,
            line=dict(color=RED if solid else RED_DASH, width=1.4,
                      dash="solid" if solid else DASH),
            hoverinfo="skip",
        ))

    annotations.append(dict(
        text=name, x=left / W, y=1 - (top + 1.5) / H, xref="paper", yref="paper",
        xanchor="left", yanchor="bottom", showarrow=False,
        font=dict(size=15, color=TEXT_GREY),
    ))

# legend keys
for pct in PERCENTILES:
    fig.add_trace(go.Scatter(
        x=[None], y=[None], mode="lines", name=pct, showlegend=True,
        line=dict(color="#c2426a", width=1.4,
                  dash="solid" if pct == "50%" else DASH),
    ))

annotations.append(dict(
    text="Year", x=541 / W, y=1 - 467 / H, xref="paper", yref="paper",
    xanchor="center", yanchor="middle", showarrow=False,
    font=dict(size=15, color=TEXT_GREY),
))
annotations.append(dict(
    text="Relative to Bench mark", x=17 / W, y=1 - 229 / H, xref="paper", yref="paper",
    xanchor="center", yanchor="middle", showarrow=False, textangle=-90,
    font=dict(size=15, color=TEXT_GREY),
))

layout["annotations"] = annotations
layout["legend"] = dict(
    x=1059 / W, y=1 - 185 / H, xanchor="left", yanchor="top",
    title=dict(text="Percentile", font=dict(size=14, color=TEXT_GREY)),
    font=dict(size=14, color=TEXT_GREY), bgcolor="rgba(0,0,0,0)",
    itemwidth=30, tracegroupgap=0,
)
fig.update_layout(**layout)
fig.write_html("out.html")
